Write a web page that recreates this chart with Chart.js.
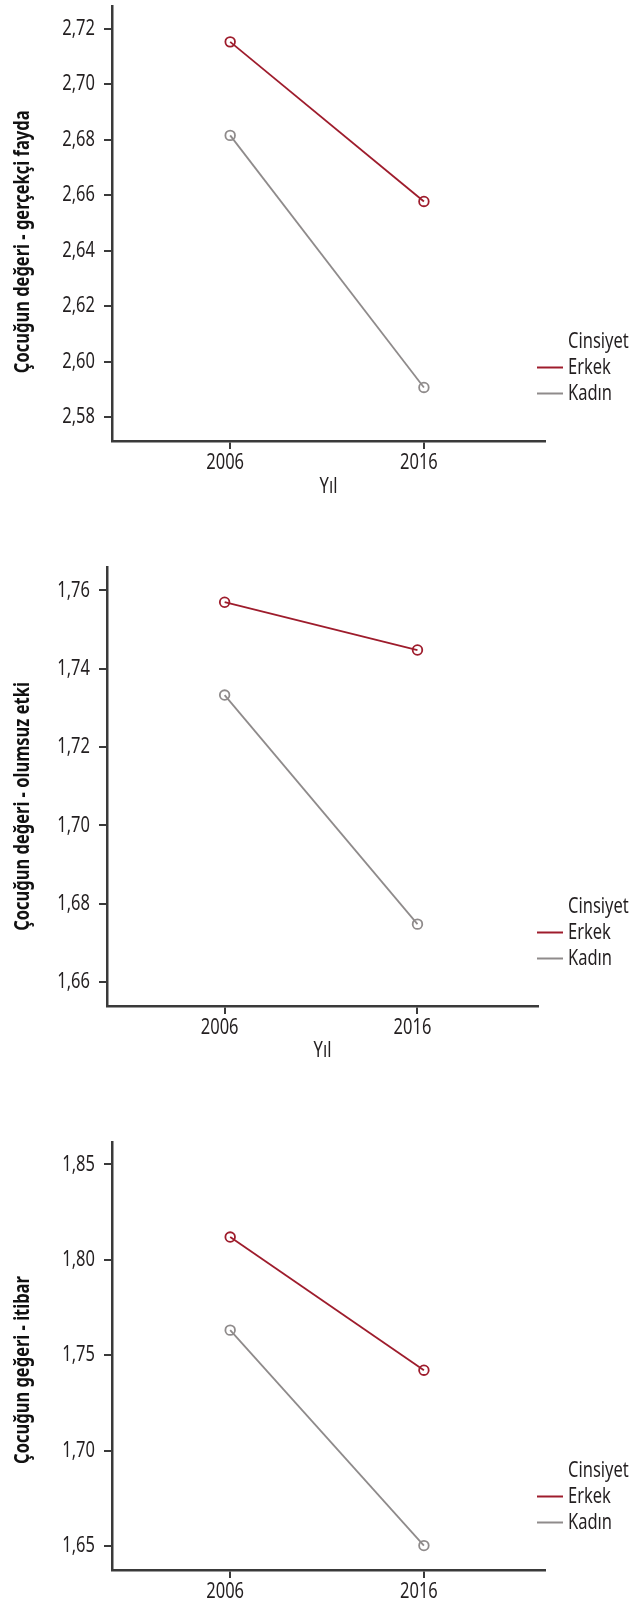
<!DOCTYPE html>
<html>
<head>
<meta charset="utf-8">
<script src="https://cdn.jsdelivr.net/npm/chart.js@4.4.1/dist/chart.umd.min.js"></script>
<style>
  body { margin: 0; background: #fff; }
  #page { position: relative; width: 640px; height: 1615px; overflow: hidden; }
  canvas { position: absolute; left: 0; }
</style>
</head>
<body>
<div id="page">
  <canvas id="c1" width="640" height="500" style="top:0px"></canvas>
  <canvas id="c2" width="640" height="524" style="top:540px"></canvas>
  <canvas id="c3" width="640" height="515" style="top:1100px"></canvas>
</div>
<script>
// data
const years = [2006, 2016];
const seriesNames = ['Erkek', 'Kadın'];
const legendTitle = 'Cinsiyet';
const xTitle = 'Yıl';

const erkek1 = [2.7152, 2.6577];
const kadin1 = [2.6815, 2.5907];
const yTicks1 = [2.58, 2.60, 2.62, 2.64, 2.66, 2.68, 2.70, 2.72];

const erkek2 = [1.7570, 1.7448];
const kadin2 = [1.7333, 1.6748];
const yTicks2 = [1.66, 1.68, 1.70, 1.72, 1.74, 1.76];

const erkek3 = [1.8119, 1.7421];
const kadin3 = [1.7631, 1.6502];
const yTicks3 = [1.65, 1.70, 1.75, 1.80, 1.85];

const RED = '#9e1c2c';
const GREY = '#8f8b8b';
const AXIS = '#3a3a3a';
const TEXT = '#231f20';
const FONT = "'Noto Sans', sans-serif";

// no condensed font installed: squeeze text horizontally around its anchor
const NARROW = 0.75;
const _fillText = CanvasRenderingContext2D.prototype.fillText;
CanvasRenderingContext2D.prototype.fillText = function (text, x, y) {
  this.save();
  this.translate(x, y);
  this.scale(NARROW, 1);
  _fillText.call(this, text, 0, 0);
  this.restore();
};

// legend drawn at the lower right, overlapping the axis end like the original
const sideLegend = {
  id: 'sideLegend',
  afterDraw(chart) {
    const ctx = chart.ctx;
    const y0 = chart.chartArea.bottom - 99.5;
    ctx.save();
    ctx.font = '22px ' + FONT;
    ctx.fillStyle = TEXT;
    ctx.textBaseline = 'middle';
    ctx.textAlign = 'left';
    ctx.fillText(legendTitle, 568, y0);
    chart.data.datasets.forEach((ds, i) => {
      const y = y0 + 26 * (i + 1);
      ctx.strokeStyle = ds.borderColor;
      ctx.lineWidth = 2;
      ctx.beginPath();
      ctx.moveTo(537, y);
      ctx.lineTo(563, y);
      ctx.stroke();
      ctx.fillStyle = TEXT;
      ctx.fillText(ds.label, 568, y);
    });
    ctx.restore();
  }
};

// y title in the original sits a bit below the middle of the axis
const titleShift = {
  id: 'titleShift',
  afterLayout(chart, args, opts) {
    const s = chart.scales.y;
    if (s._shifted) return;
    const draw = s.drawTitle;
    s.drawTitle = function () {
      const t = this.top, b = this.bottom;
      this.top += opts.dy; this.bottom += opts.dy;
      draw.call(this);
      this.top = t; this.bottom = b;
    };
    s._shifted = true;
  }
};

function makeChart(id, erkek, kadin, yTicks, yMin, yMax, yTitle, box) {
  const toPts = vals => years.map((x, i) => ({ x: x, y: vals[i] }));
  const ds = (label, vals, color) => ({
    label: label,
    data: toPts(vals),
    borderColor: color,
    backgroundColor: 'transparent',
    borderWidth: 1.8,
    pointRadius: 4.8,
    pointBorderWidth: 1.8,
    pointBackgroundColor: 'transparent',
    pointBorderColor: color,
    tension: 0
  });
  return new Chart(document.getElementById(id), {
    type: 'line',
    data: {
      datasets: [ds(seriesNames[0], erkek, RED), ds(seriesNames[1], kadin, GREY)]
    },
    options: {
      responsive: false,
      animation: false,
      devicePixelRatio: 1,
      layout: { padding: { top: box.top, right: 640 - box.right, left: 0, bottom: 0 } },
      plugins: {
        legend: { display: false },
        tooltip: { enabled: false },
        titleShift: { dy: box.titleDy }
      },
      scales: {
        x: {
          type: 'linear',
          min: 1999.9,
          max: 2022.25,
          afterBuildTicks: s => { s.ticks = years.map(v => ({ value: v })); },
          afterFit: s => { s.height = box.xh; s.paddingLeft = 0; s.paddingRight = 0; },
          border: { display: true, color: AXIS, width: 2.5 },
          grid: { drawOnChartArea: false, tickLength: 8, color: AXIS, lineWidth: 2 },
          ticks: {
            color: TEXT, padding: 1, labelOffset: -5,
            font: { family: FONT, size: 22 },
            callback: v => String(v)
          },
          title: {
            display: box.showX, text: xTitle, color: TEXT,
            font: { family: FONT, size: 22 }, padding: { top: 0, bottom: 0 }
          }
        },
        y: {
          min: yMin,
          max: yMax,
          afterBuildTicks: s => { s.ticks = yTicks.map(v => ({ value: v })); },
          afterFit: s => { s.width = box.left; s.paddingTop = 0; s.paddingBottom = 0; },
          border: { display: true, color: AXIS, width: 2.5 },
          grid: { drawOnChartArea: false, tickLength: 8, color: AXIS, lineWidth: 2 },
          ticks: {
            color: TEXT, padding: 9,
            font: { family: FONT, size: 22 },
            callback: v => v.toFixed(2).replace('.', ',')
          },
          title: {
            display: true, text: yTitle, color: '#111',
            font: { family: FONT, size: 22, weight: 'bold' },
            padding: { top: 10, bottom: 0 }
          }
        }
      }
    },
    plugins: [sideLegend, titleShift]
  });
}

makeChart('c1', erkek1, kadin1, yTicks1, 2.5714, 2.7279,
  'Çocuğun değeri - gerçekçi fayda',
  { top: 3, right: 545, left: 112, xh: 59, showX: true, titleDy: 18 });
makeChart('c2', erkek2, kadin2, yTicks2, 1.6539, 1.7660,
  'Çocuğun değeri - olumsuz etki',
  { top: 27, right: 538, left: 107, xh: 58, showX: true, titleDy: 20 });
makeChart('c3', erkek3, kadin3, yTicks3, 1.6374, 1.8617,
  'Çocuğun geğeri - itibar',
  { top: 42, right: 545, left: 112, xh: 45, showX: false, titleDy: 14 });
</script>
</body>
</html>
